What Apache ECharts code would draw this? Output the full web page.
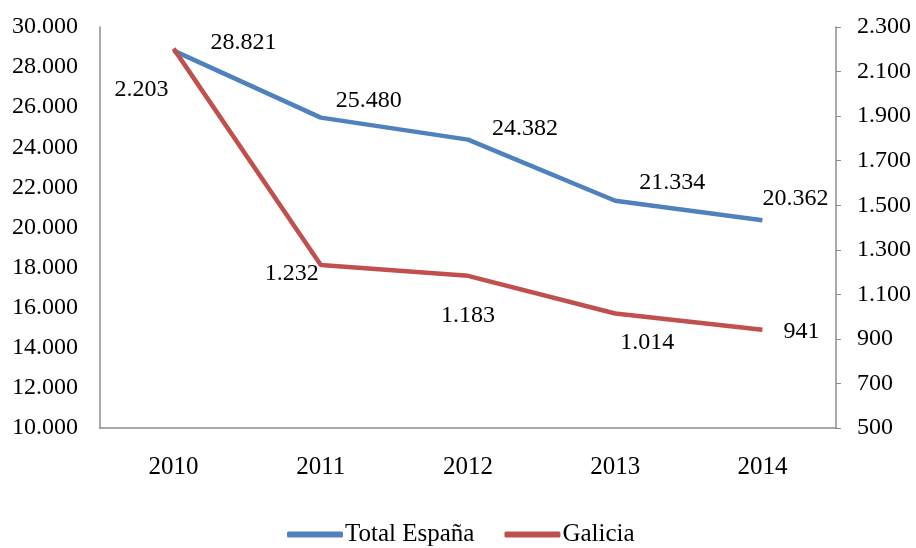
<!DOCTYPE html>
<html>
<head>
<meta charset="utf-8">
<script src="https://cdn.jsdelivr.net/npm/echarts@6/dist/echarts.min.js"></script>
<style>
  html, body { margin: 0; padding: 0; background: #fff; }
  #main { width: 916px; height: 548px; }
</style>
</head>
<body>
<div id="main"></div>
<script>
// datos
var years = ['2010', '2011', '2012', '2013', '2014'];
var totalEspana = [28821, 25480, 24382, 21334, 20362];
var galicia = [2203, 1232, 1183, 1014, 941];

// desplazamiento de etiquetas (px)
var offEspana = [[70, -8], [48, -17], [57, -11], [57, -18], [33, -22]];
var offGalicia = [[-32, 41], [-29, 9], [0, 40], [32, 29], [39, 2]];

var FONT = '"Liberation Serif", "Times New Roman", serif';

function fmt (v) {
  return String(v).replace(/\B(?=(\d{3})+(?!\d))/g, '.');
}

function withLabels (vals, offs) {
  var out = [];
  for (var i = 0; i < vals.length; i++) {
    out.push({
      value: vals[i],
      label: { offset: offs[i] }
    });
  }
  return out;
}

var myChart = echarts.init(document.getElementById('main'));

var labelStyle = {
  show: true,
  position: 'inside',
  fontFamily: FONT,
  fontSize: 24,
  color: '#000',
  formatter: function (p) { return fmt(p.value); }
};

var option = {
  animation: false,
  textStyle: { fontFamily: FONT },
  grid: { left: 100, right: 80, top: 27, bottom: 120 },
  legend: {
    top: 517,
    left: 282,
    itemWidth: 56,
    itemHeight: 6,
    itemGap: 30,
    icon: 'roundRect',
    textStyle: { fontFamily: FONT, fontSize: 25, color: '#000', padding: [0, 0, 0, -3] },
    data: ['Total España', 'Galicia']
  },
  xAxis: {
    type: 'category',
    data: years,
    boundaryGap: true,
    axisLine: { lineStyle: { color: '#8c8c8c', width: 1.5 } },
    axisTick: { show: false },
    axisLabel: { fontFamily: FONT, fontSize: 25, color: '#000', margin: 27 }
  },
  yAxis: [
    {
      type: 'value',
      min: 10000, max: 30000, interval: 2000,
      axisLine: { show: true, lineStyle: { color: '#8c8c8c', width: 1.5 } },
      axisTick: { show: false },
      splitLine: { show: false },
      axisLabel: { fontFamily: FONT, fontSize: 24, color: '#000', margin: 22, formatter: fmt }
    },
    {
      type: 'value',
      min: 500, max: 2300, interval: 200,
      axisLine: { show: true, lineStyle: { color: '#8c8c8c', width: 1.5 } },
      axisTick: { show: true, length: 5, lineStyle: { color: '#8c8c8c' } },
      splitLine: { show: false },
      axisLabel: { fontFamily: FONT, fontSize: 24, color: '#000', margin: 21, formatter: fmt }
    }
  ],
  series: [
    {
      name: 'Total España',
      type: 'line',
      yAxisIndex: 0,
      data: withLabels(totalEspana, offEspana),
      symbol: 'circle',
      symbolSize: 0,
      lineStyle: { color: '#4F81BD', width: 4.5 },
      itemStyle: { color: '#4F81BD' },
      label: labelStyle,
      z: 2
    },
    {
      name: 'Galicia',
      type: 'line',
      yAxisIndex: 1,
      data: withLabels(galicia, offGalicia),
      symbol: 'circle',
      symbolSize: 0,
      lineStyle: { color: '#C0504D', width: 4.5 },
      itemStyle: { color: '#C0504D' },
      label: labelStyle,
      z: 3
    }
  ]
};

myChart.setOption(option);
</script>
</body>
</html>
